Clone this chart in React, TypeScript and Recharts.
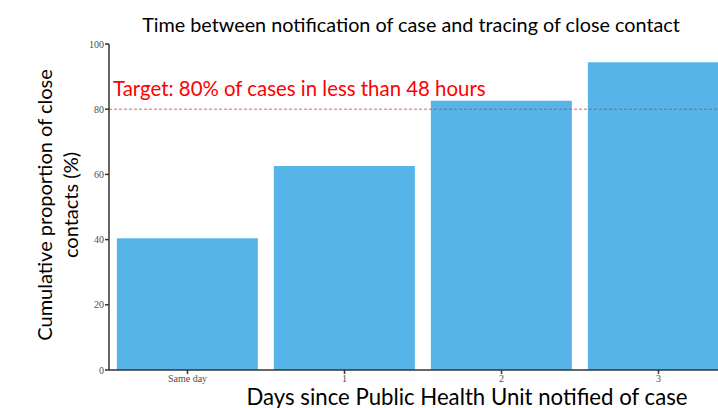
import React from 'react'
import { BarChart, Bar, XAxis, YAxis, ReferenceLine } from 'recharts'

// categories and cumulative % values
const days = ['Same day', '1', '2', '3']
const cumulativePct = [40.4, 62.6, 82.6, 94.4]
const yTicks = [0, 20, 40, 60, 80, 100]
const targetPct = 80

const data = days.map((d, i) => ({ day: d, pct: cumulativePct[i] }))

const sans = 'Lato, "Open Sans", sans-serif'
const serif = '"Liberation Serif", "DejaVu Serif", serif'
const axisColor = '#333333'
const barColor = '#56B4E9'

function YTitle({ viewBox }: any) {
  const cy = viewBox.y + viewBox.height / 2 - 2
  return (
    <text
      transform={`translate(0, ${cy}) rotate(-90)`}
      textAnchor="middle" fontFamily={sans} fontSize={20} fill="#000"
    >
      <tspan x={0} y={52}>Cumulative proportion of close</tspan>
      <tspan x={0} y={78}>contacts (%)</tspan>
    </text>
  )
}

function XTitle({ viewBox }: any) {
  return (
    <text x={467} y={viewBox.y + 35} textAnchor="middle" fontFamily={sans} fontSize={22.2} fill="#000">
      Days since Public Health Unit notified of case
    </text>
  )
}

function TargetLabel({ viewBox }: any) {
  return (
    <text x={viewBox.x + 4} y={viewBox.y - 13} fontFamily={sans} fontSize={20.4} fill="#ff0000">
      Target: 80% of cases in less than 48 hours
    </text>
  )
}

export default function App() {
  return (
    <div style={{
      position: 'fixed', left: 0, top: 0, width: 718, height: 408,
      overflow: 'hidden', background: '#fff',
    }}>
      <div style={{
        position: 'absolute', left: 0, width: 822, top: 12, textAlign: 'center',
        fontFamily: sans, fontSize: 19.8, color: '#000', whiteSpace: 'nowrap',
      }}>
        Time between notification of case and tracing of close contact
      </div>
      <BarChart
        width={740} height={408} data={data}
        margin={{ top: 44, right: 3, bottom: 0, left: 0 }}
        barCategoryGap="5%"
      >
        <XAxis
          dataKey="day" height={38} interval={0}
          stroke={axisColor} strokeWidth={1.5}
          tickSize={4} tickMargin={1}
          tick={{ fill: '#4d4d4d', fontFamily: serif, fontSize: 10 }}
          label={<XTitle />}
        />
        <YAxis
          width={109} domain={[0, 100]} ticks={yTicks} interval={0}
          stroke={axisColor} strokeWidth={1.5}
          tickSize={4} tickMargin={1}
          tick={{ fill: '#4d4d4d', fontFamily: serif, fontSize: 10 }}
          label={<YTitle />}
        />
        <Bar dataKey="pct" fill={barColor} isAnimationActive={false} />
        <ReferenceLine
          y={targetPct} stroke="#c04a4a" strokeWidth={0.8} strokeDasharray="3 2"
          label={<TargetLabel />}
        />
      </BarChart>
    </div>
  )
}
